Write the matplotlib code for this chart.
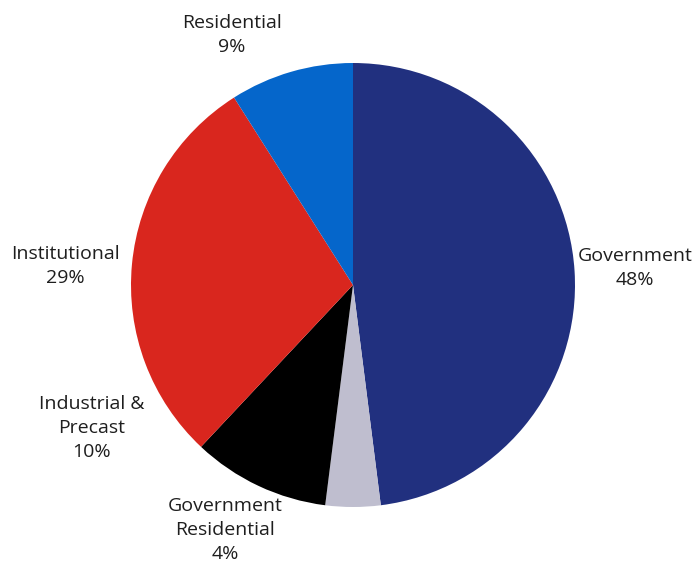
import matplotlib.pyplot as plt

# datos del gráfico
categorias = ["Government", "Government\nResidential", "Industrial &\nPrecast", "Institutional", "Residential"]
valores = [48, 4, 10, 29, 9]
colores = ["#21307F", "#BFBECF", "#000000", "#D9261E", "#0566CB"]

# posiciones de las etiquetas en pixeles (x, y centro)
pos_etiquetas = [(635, 268), (225, 530), (92, 428), (65, 266), (232, 35)]

W, H = 694, 563
cx, cy, r = 353, 285, 222

fig = plt.figure(figsize=(W / 100, H / 100), dpi=100)
ax = fig.add_axes([0, 0, 1, 1])
ax.pie(valores, colors=colores, startangle=90, counterclock=False,
       radius=1, center=(0, 0), frame=False)
ax.set_xlim(-cx / r, (W - cx) / r)
ax.set_ylim(-(H - cy) / r, cy / r)
ax.set_aspect("auto")
ax.set_axis_off()

for cat, val, (px, py) in zip(categorias, valores, pos_etiquetas):
    fig.text(px / W, 1 - py / H, f"{cat}\n{val}%", ha="center", va="center",
             fontsize=14, family="Open Sans", color="#1e1e1e", linespacing=1.45)

fig.savefig("out.png", dpi=100, facecolor="white")
